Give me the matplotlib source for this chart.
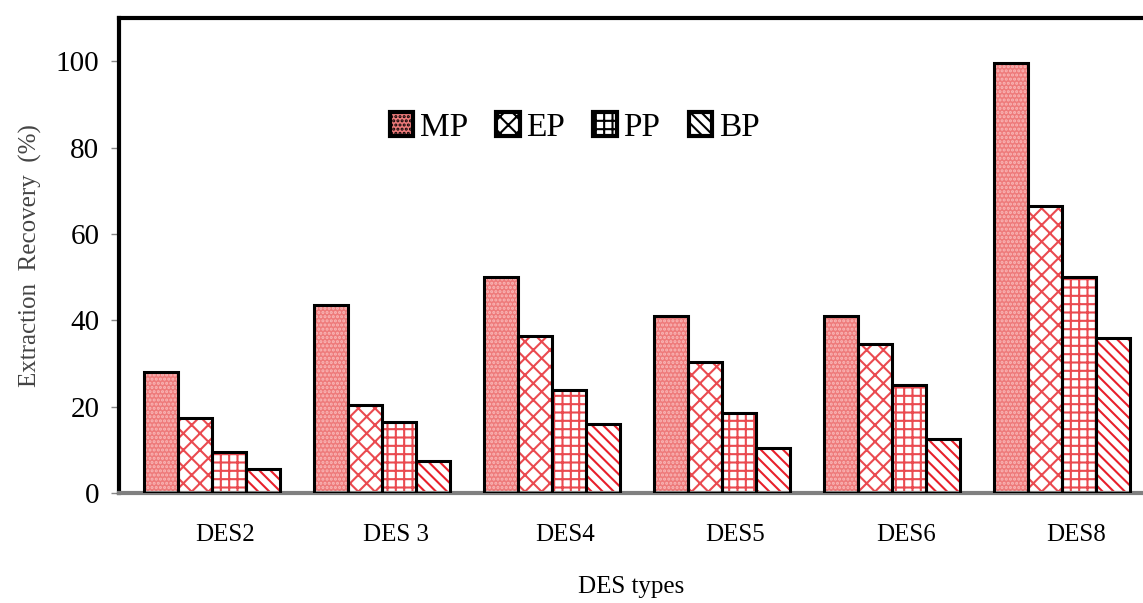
import numpy as np
import matplotlib.pyplot as plt
from matplotlib.patches import Patch

# data
categories = ['DES2', 'DES 3', 'DES4', 'DES5', 'DES6', 'DES8']
series = ['MP', 'EP', 'PP', 'BP']
mp = [28, 43.5, 50, 41, 41, 99.5]
ep = [17.5, 20.5, 36.5, 30.5, 34.5, 66.5]
pp = [9.5, 16.5, 24, 18.5, 25, 50]
bp = [5.5, 7.5, 16, 10.5, 12.5, 36]
values = [mp, ep, pp, bp]

faces = ['#ee7b7b', 'white', 'white', 'white']
hatches = ['....', 'xx', '++', '\\\\\\']
hatch_cols = ['#f9b8b8', '#ea4a50', '#ea4a50', '#e8202b']

plt.rcParams['font.family'] = ['Liberation Serif', 'DejaVu Serif']
plt.rcParams['hatch.linewidth'] = 1.5

fig = plt.figure(figsize=(11.43, 6.03), dpi=100)
ax = fig.add_axes([0.104, 0.182, 0.896, 0.788])

x = np.arange(len(categories))
width = 0.2
offsets = [-0.3, -0.1, 0.1, 0.3]

handles = []
for vals, off, fc, h, hc, name in zip(values, offsets, faces, hatches, hatch_cols, series):
    ax.bar(x + off, vals, width, color=fc, edgecolor=hc, hatch=h, linewidth=0, zorder=2)
    ax.bar(x + off, vals, width, fill=False, edgecolor='black', linewidth=2.2, zorder=3)
    handles.append(Patch(facecolor=fc, edgecolor='black', hatch=h, linewidth=3, label=name))

ax.set_xlim(-0.547, 5.476)
ax.set_ylim(0, 110)
ax.set_yticks([0, 20, 40, 60, 80, 100])
ax.set_xticks(x + 0.08)
ax.set_xticklabels(categories, fontsize=18)
ax.tick_params(axis='x', length=0, pad=22)
ax.tick_params(axis='y', length=6, width=1, color='#888888', labelsize=21, pad=8)

for side in ['left', 'top']:
    ax.spines[side].set_linewidth(3)
    ax.spines[side].set_color('black')
ax.spines['bottom'].set_linewidth(3)
ax.spines['bottom'].set_color('#808080')
ax.spines['right'].set_visible(False)

ax.set_ylabel('Extraction  Recovery  (%)', fontsize=18, color='#444444', labelpad=10)
ax.set_xlabel('DES types', fontsize=18, labelpad=22)

leg = ax.legend(handles=handles, ncol=4, frameon=False, fontsize=24,
                loc='center', bbox_to_anchor=(0.445, 0.77),
                handlelength=0.7, handleheight=0.7, handletextpad=0.2,
                columnspacing=0.85)

fig.savefig('out.png', dpi=100)
